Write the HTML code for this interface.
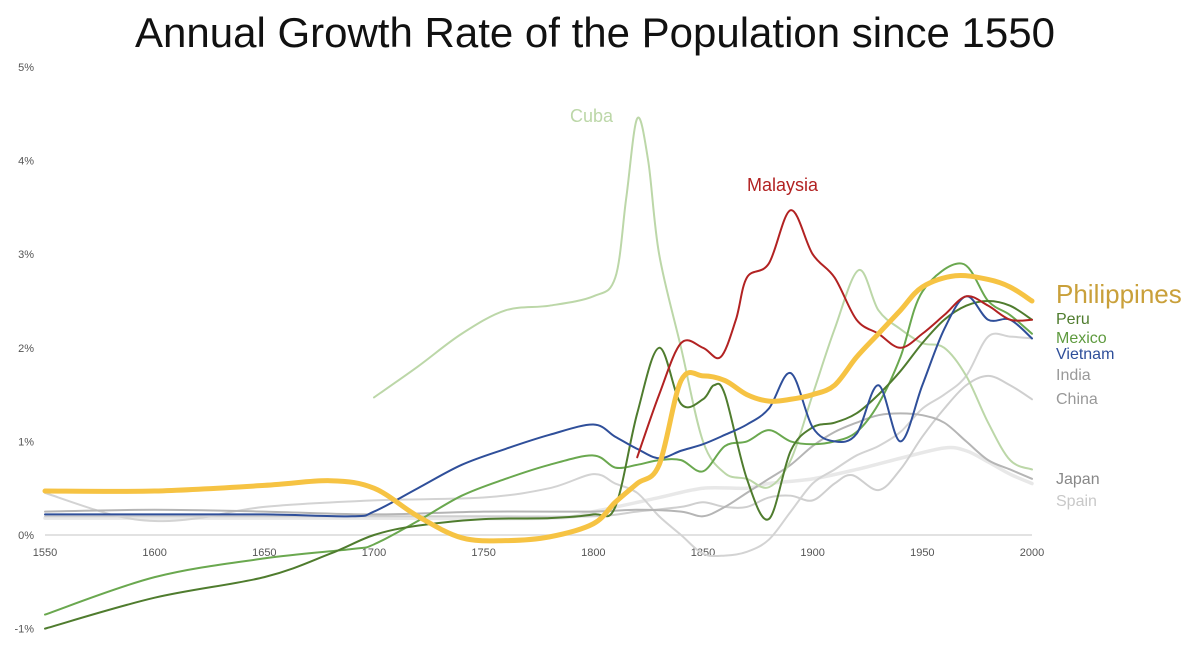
<!DOCTYPE html>
<html><head><meta charset="utf-8"><style>
body{margin:0;background:#fff;}
svg{display:block;font-family:"Liberation Sans",sans-serif;}
</style></head><body>
<svg id="chart" width="1200" height="666" viewBox="0 0 1200 666">
<text x="595" y="47" text-anchor="middle" font-size="42" fill="#111">Annual Growth Rate of the Population since 1550</text>
<g id="axes"></g><g id="series"></g><g id="labels"></g>
</svg>
<script>
const xTicks=[1550,1600,1650,1700,1750,1800,1850,1900,1950,2000];
const yTicks=[-1,0,1,2,3,4,5];
const philippines=[[1550,.47],[1600,.47],[1650,.53],[1680,.58],[1700,.5],[1720,.2],[1740,-.03],[1760,-.06],[1780,-.02],[1800,.12],[1810,.35],[1820,.55],[1830,.75],[1840,1.65],[1850,1.7],[1860,1.65],[1870,1.5],[1880,1.43],[1890,1.45],[1900,1.5],[1910,1.6],[1920,1.9],[1930,2.15],[1940,2.4],[1950,2.65],[1965,2.77],[1980,2.73],[1990,2.65],[2000,2.5]];
const cuba=[[1700,1.47],[1720,1.8],[1740,2.15],[1760,2.4],[1780,2.45],[1800,2.55],[1810,2.75],[1815,3.6],[1820,4.45],[1825,4.0],[1830,3.0],[1840,2.0],[1850,1.0],[1860,.66],[1870,.6],[1880,.51],[1890,.8],[1900,1.5],[1910,2.2],[1921,2.83],[1930,2.4],[1940,2.2],[1950,2.05],[1960,2.0],[1970,1.7],[1980,1.2],[1990,.8],[2000,.7]];
const malaysia=[[1820,.83],[1830,1.5],[1840,2.05],[1850,2.0],[1858,1.9],[1865,2.3],[1870,2.75],[1880,2.9],[1890,3.47],[1900,3.0],[1910,2.75],[1920,2.3],[1930,2.15],[1940,2.0],[1950,2.15],[1960,2.35],[1970,2.55],[1980,2.45],[1990,2.3],[2000,2.3]];
const vietnam=[[1550,.22],[1600,.22],[1650,.22],[1690,.2],[1700,.25],[1720,.5],[1740,.75],[1760,.92],[1780,1.07],[1800,1.18],[1810,1.05],[1820,.92],[1830,.82],[1840,.9],[1850,.97],[1860,1.07],[1870,1.18],[1880,1.35],[1890,1.73],[1900,1.15],[1910,1.0],[1920,1.08],[1930,1.6],[1940,1.0],[1950,1.6],[1960,2.2],[1970,2.55],[1980,2.3],[1990,2.3],[2000,2.1]];
const peru=[[1550,-1.0],[1600,-.67],[1650,-.45],[1680,-.2],[1700,0],[1720,.1],[1750,.17],[1780,.18],[1800,.22],[1810,.3],[1820,1.3],[1830,2.0],[1840,1.4],[1850,1.45],[1855,1.6],[1860,1.5],[1870,.6],[1880,.17],[1890,.9],[1900,1.15],[1910,1.2],[1920,1.3],[1930,1.5],[1940,1.75],[1950,2.05],[1960,2.3],[1970,2.45],[1980,2.5],[1990,2.45],[2000,2.3]];
const mexico=[[1550,-.85],[1600,-.45],[1650,-.25],[1690,-.15],[1700,-.1],[1720,.15],[1740,.42],[1760,.6],[1780,.75],[1800,.85],[1810,.72],[1820,.75],[1830,.8],[1840,.8],[1850,.68],[1860,.95],[1870,1.0],[1880,1.12],[1890,1.0],[1900,.97],[1910,1.0],[1920,1.1],[1930,1.4],[1940,1.9],[1950,2.6],[1968,2.9],[1980,2.5],[1990,2.35],[2000,2.15]];
const india=[[1550,.45],[1580,.22],[1600,.15],[1620,.18],[1650,.3],[1700,.37],[1750,.4],[1780,.5],[1800,.65],[1810,.55],[1820,.45],[1830,.2],[1840,0],[1850,-.2],[1860,-.22],[1870,-.18],[1880,-.05],[1890,.25],[1900,.55],[1910,.7],[1920,.85],[1930,.95],[1940,1.1],[1950,1.35],[1960,1.5],[1970,1.7],[1980,2.12],[1990,2.12],[2000,2.1]];
const china=[[1550,.2],[1650,.2],[1750,.2],[1800,.2],[1820,.25],[1840,.3],[1850,.35],[1860,.3],[1870,.3],[1880,.4],[1890,.42],[1900,.37],[1910,.55],[1918,.64],[1930,.48],[1940,.7],[1950,1.05],[1960,1.35],[1970,1.6],[1980,1.7],[1990,1.6],[2000,1.45]];
const japan=[[1550,.25],[1600,.27],[1650,.25],[1700,.22],[1750,.25],[1800,.25],[1820,.27],[1840,.25],[1850,.2],[1860,.3],[1870,.45],[1880,.6],[1890,.75],[1900,.95],[1910,1.1],[1920,1.2],[1930,1.28],[1940,1.3],[1950,1.28],[1960,1.2],[1970,1.0],[1980,.8],[1990,.7],[2000,.6]];
const spain=[[1550,.18],[1650,.18],[1700,.18],[1780,.18],[1800,.25],[1830,.4],[1850,.5],[1870,.5],[1880,.55],[1900,.6],[1920,.7],[1940,.82],[1960,.93],[1970,.9],[1980,.78],[1990,.65],[2000,.55]];

const NS="http://www.w3.org/2000/svg";
function xs(yr){return 45+(yr-1550)*(1032-45)/450;}
function ys(v){return 535-v*93.6;}
function mk(tag,attrs,parent){const e=document.createElementNS(NS,tag);for(const k in attrs)e.setAttribute(k,attrs[k]);parent.appendChild(e);return e;}
const axes=document.getElementById('axes');
const zl=mk('line',{x1:45,x2:1032,y1:ys(0),y2:ys(0),stroke:'#d9d9d9','stroke-width':1.5},axes);


xTicks.forEach(t=>{const e=mk('text',{x:xs(t),y:556,'text-anchor':'middle','font-size':11,fill:'#555'},axes);e.textContent=t;

});
yTicks.forEach(t=>{const e=mk('text',{x:34,y:ys(t)+4,'text-anchor':'end','font-size':11,fill:'#555'},axes);e.textContent=t+'%';

});
function path(data){const p=data.map(d=>[xs(d[0]),ys(d[1])]);let s='M'+p[0][0]+','+p[0][1];
for(let i=0;i<p.length-1;i++){const p0=p[i-1]||p[i],p1=p[i],p2=p[i+1],p3=p[i+2]||p2;
const c1=[p1[0]+(p2[0]-p0[0])/6,p1[1]+(p2[1]-p0[1])/6],c2=[p2[0]-(p3[0]-p1[0])/6,p2[1]-(p3[1]-p1[1])/6];
s+=`C${c1[0]},${c1[1]} ${c2[0]},${c2[1]} ${p2[0]},${p2[1]}`;}return s;}
const series=[['spain',spain,'#e8e8e8',3.5],['china',china,'#cfcfcf',2],['india',india,'#d3d3d3',2],['japan',japan,'#b5b5b5',2],['cuba',cuba,'#bcd7a8',2],['mexico',mexico,'#6aa84f',2],['peru',peru,'#4f7c2e',2],['vietnam',vietnam,'#2f4f9a',2],['malaysia',malaysia,'#b22222',2],['philippines',philippines,'#f6c343',5]];
const sg=document.getElementById('series');
series.forEach(s=>{const e=mk('path',{d:path(s[1]),fill:'none',stroke:s[2],'stroke-width':s[3],'stroke-linejoin':'round','stroke-linecap':'round'},sg);

});
const labels=[['Cuba',570,122,18,'#bcd7a8'],['Malaysia',747,191,18,'#b22222'],['Philippines',1056,303,26,'#c9a03a'],['Peru',1056,324,16,'#4f7c2e'],['Mexico',1056,343,16,'#5e9a3e'],['Vietnam',1056,359,16,'#2f4f9a'],['India',1056,380,16,'#999'],['China',1056,404,16,'#999'],['Japan',1056,484,16,'#888'],['Spain',1056,506,16,'#c8c8c8']];
const lg=document.getElementById('labels');
labels.forEach(l=>{const e=mk('text',{x:l[1],y:l[2],'font-size':l[3],fill:l[4]},lg);e.textContent=l[0];

});
</script>
</body></html>
